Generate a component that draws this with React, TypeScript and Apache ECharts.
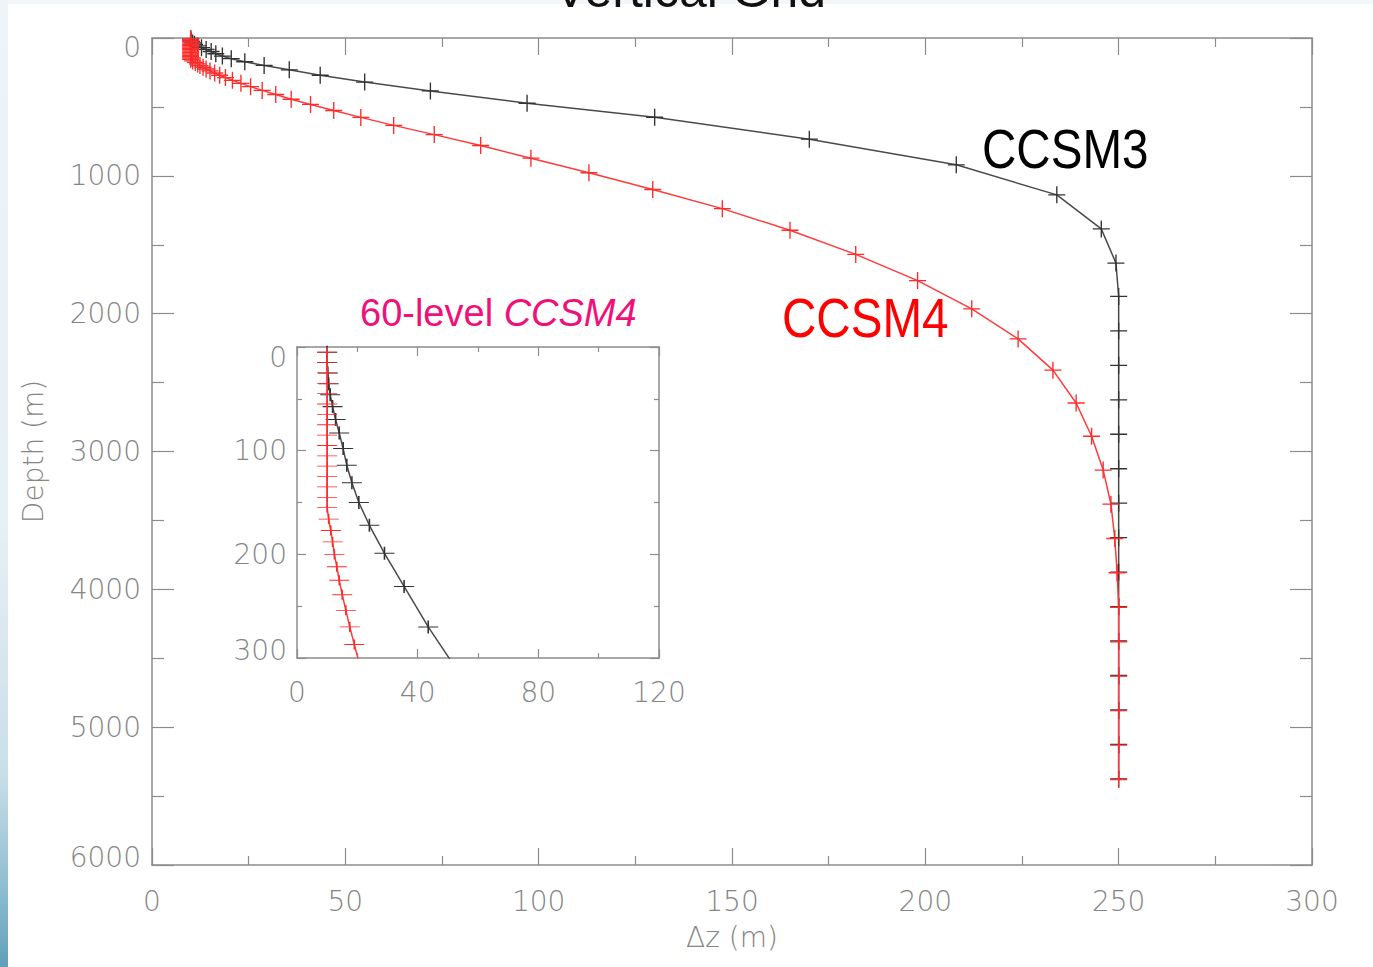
import React, { useEffect, useRef } from "react";
import * as echarts from "echarts";

// CCSM3 (40 levels): layer thickness Δz (m) and depth (m)
const ccsm3Dz = [
  10, 10, 10.2, 10.5, 11, 11.8, 12.8, 14, 15.3, 16.5,
  18.2, 20.5, 24, 29, 35.5, 43.5, 55, 72, 97, 130,
  170, 208, 234, 245.5, 249.3,
  250, 250, 250, 250, 250, 250, 250, 250, 250, 250, 250, 250, 250, 250, 250,
];
const ccsm3Depth = [
  5, 15, 25, 35.5, 46, 57.5, 70, 83, 98, 114,
  131, 150, 172, 199, 231, 270, 320, 384, 473, 575,
  734, 920, 1138, 1385, 1633,
  1875, 2125, 2375, 2625, 2875, 3125, 3375, 3625, 3875, 4125, 4375, 4625, 4875, 5125, 5375,
];

// CCSM4 (60 levels)
const ccsm4Dz = [
  10, 10, 10, 10, 10, 10, 10, 10, 10, 10, 10, 10, 10, 10, 10, 10,
  10.5, 11.2, 11.8, 12.4, 13.2, 14, 15, 16.2, 17.5, 19,
  20.8, 23, 25.5, 28.5, 32, 36, 41, 47, 54, 62.5,
  73, 85, 98, 113, 129.5, 147.5, 165, 182, 198, 212,
  224, 233,
  239, 243, 246, 248, 249, 249.6, 250, 250, 250, 250, 250, 250,
];
const ccsm4Depth = [
  5, 15, 25, 35, 45, 55, 65, 75, 85, 95, 105, 115, 125, 135, 145, 155,
  166, 177, 188, 200, 212, 225, 239, 254, 270, 287,
  307, 329, 353, 380, 410, 444, 482, 526, 576, 634,
  701, 780, 872, 978, 1099, 1238, 1395, 1570, 1760, 1965,
  2183, 2410,
  2648, 2889, 3135, 3382, 3631, 3880, 4130, 4380, 4630, 4880, 5130, 5380,
];

const titleText = "Vertical Grid";
const xName = "Δz (m)";
const yName = "Depth (m)";
const label3 = "CCSM3";
const label4 = "CCSM4";
const insetTitleA = "60-level ";
const insetTitleB = "CCSM4";

const CROSS =
  "path://M9.2,0 H10.8 V9.2 H20 V10.8 H10.8 V20 H9.2 V10.8 H0 V9.2 H9.2 Z";

const pairs = (dz: number[], depth: number[]) => dz.map((v, i) => [v, depth[i]]);

const AXIS_COLOR = "#8c8c8c";
const LABEL_COLOR = "#858585";
const FONT = "DejaVu Sans";

function makeAxis(o: any) {
  const {
    gridIndex, position, min, max, interval, inverse, showLabel, tickLen, minorLen,
    margin, formatter, rich, name, nameGap, fontSize,
  } = o;
  return {
    type: "value",
    gridIndex,
    position,
    min,
    max,
    interval,
    inverse: !!inverse,
    axisLine: { show: true, onZero: false, lineStyle: { color: AXIS_COLOR, width: 1.5 } },
    axisTick: { show: true, inside: true, length: tickLen, lineStyle: { color: AXIS_COLOR, width: 1.2 } },
    minorTick: { show: true, splitNumber: 2, length: minorLen, lineStyle: { color: AXIS_COLOR, width: 1.2 } },
    splitLine: { show: false },
    minorSplitLine: { show: false },
    axisLabel: {
      show: !!showLabel,
      margin,
      color: LABEL_COLOR,
      fontFamily: FONT,
      fontWeight: 200,
      fontSize: fontSize || 28,
      formatter,
      rich,
    },
    name,
    nameLocation: "middle",
    nameGap,
    nameTextStyle: { color: LABEL_COLOR, fontFamily: FONT, fontWeight: 200, fontSize: 28 },
  };
}

const richBase = { color: LABEL_COLOR, fontFamily: FONT, fontWeight: 200, fontSize: 28 };

export default function App() {
  const ref = useRef<HTMLDivElement>(null);

  useEffect(() => {
    if (!ref.current) return;
    const chart = echarts.init(ref.current, undefined, { renderer: "svg" });

    const d3 = pairs(ccsm3Dz, ccsm3Depth);
    const d4 = pairs(ccsm4Dz, ccsm4Depth);

    const option: any = {
      animation: false,
      backgroundColor: "transparent",
      grid: [
        { left: 152, top: 38, width: 1160, height: 827 },
        { left: 297, top: 347, width: 362, height: 311 },
      ],
      xAxis: [
        makeAxis({ gridIndex: 0, position: "bottom", min: 0, max: 300, interval: 50, showLabel: true, tickLen: 17, minorLen: 9, margin: 22, name: xName, nameGap: 58 }),
        makeAxis({ gridIndex: 0, position: "top", min: 0, max: 300, interval: 50, showLabel: false, tickLen: 17, minorLen: 9 }),
        makeAxis({ gridIndex: 1, position: "bottom", min: 0, max: 120, interval: 40, showLabel: true, tickLen: 9, minorLen: 5, margin: 20 }),
        makeAxis({ gridIndex: 1, position: "top", min: 0, max: 120, interval: 40, showLabel: false, tickLen: 9, minorLen: 5 }),
      ],
      yAxis: [
        makeAxis({
          gridIndex: 0, position: "left", min: 0, max: 6000, interval: 1000, inverse: true, showLabel: true,
          tickLen: 22, minorLen: 12, margin: 11, name: yName, nameGap: 105,
          formatter: (v: number) => (v === 0 ? "{t|0}" : v === 6000 ? "{b|6000}" : String(v)),
          rich: { t: { ...richBase, padding: [18, 0, 0, 0] }, b: { ...richBase, padding: [0, 0, 16, 0] } },
        }),
        makeAxis({ gridIndex: 0, position: "right", min: 0, max: 6000, interval: 1000, inverse: true, showLabel: false, tickLen: 22, minorLen: 12 }),
        makeAxis({
          gridIndex: 1, position: "left", min: 0, max: 300, interval: 100, inverse: true, showLabel: true,
          tickLen: 9, minorLen: 5, margin: 10,
          formatter: (v: number) => (v === 0 ? "{t|0}" : v === 300 ? "{b|300}" : String(v)),
          rich: { t: { ...richBase, padding: [20, 0, 0, 0] }, b: { ...richBase, padding: [0, 0, 16, 0] } },
        }),
        makeAxis({ gridIndex: 1, position: "right", min: 0, max: 300, interval: 100, inverse: true, showLabel: false, tickLen: 9, minorLen: 5 }),
      ],
      series: [
        {
          name: "CCSM3", type: "line", xAxisIndex: 0, yAxisIndex: 0, data: d3,
          symbol: CROSS, symbolSize: [17, 17],
          itemStyle: { color: "#333333" },
          lineStyle: { color: "#4a4a4a", width: 1.5 },
          z: 2,
        },
        {
          name: "CCSM4", type: "line", xAxisIndex: 0, yAxisIndex: 0, data: d4,
          symbol: CROSS, symbolSize: [17, 17],
          itemStyle: { color: "#ff2a2a" },
          lineStyle: { color: "#ff3a3a", width: 1.5 },
          z: 3,
        },
        {
          name: "CCSM3 inset", type: "line", xAxisIndex: 2, yAxisIndex: 2, data: d3,
          symbol: CROSS, symbolSize: [20, 13], clip: true,
          itemStyle: { color: "#333333" },
          lineStyle: { color: "#4a4a4a", width: 1.5 },
          z: 2,
        },
        {
          name: "CCSM4 inset", type: "line", xAxisIndex: 2, yAxisIndex: 2, data: d4,
          symbol: CROSS, symbolSize: [20, 10], clip: true,
          itemStyle: { color: "#ff2a2a" },
          lineStyle: { color: "#ff3a3a", width: 1.5 },
          z: 3,
        },
      ],
      graphic: [
        {
          type: "text", x: 690, y: -10,
          style: { text: titleText, fill: "#111", fontFamily: "Liberation Sans", fontSize: 50, align: "center", verticalAlign: "middle" },
        },
        {
          type: "text", x: 982, y: 149, scaleX: 0.85,
          style: { text: label3, fill: "#000", fontFamily: "Liberation Sans", fontSize: 56, align: "left", verticalAlign: "middle" },
        },
        {
          type: "text", x: 782, y: 318, scaleX: 0.85,
          style: { text: label4, fill: "#ff0000", fontFamily: "Liberation Sans", fontSize: 56, align: "left", verticalAlign: "middle" },
        },
        {
          type: "text", x: 360, y: 313,
          style: {
            text: "{a|" + insetTitleA + "}{b|" + insetTitleB + "}",
            align: "left", verticalAlign: "middle",
            rich: {
              a: { fill: "#f0107a", fontFamily: "Liberation Sans", fontSize: 38 },
              b: { fill: "#f0107a", fontFamily: "Liberation Sans", fontSize: 38, fontStyle: "italic" },
            },
          },
        },
      ],
    };

    chart.setOption(option);
    return () => chart.dispose();
  }, []);

  return (
    <div style={{ position: "absolute", left: 0, top: 0, width: 1373, height: 967, background: "#f3f7fa", overflow: "hidden" }}>
      <div
        style={{
          position: "absolute", left: 0, top: 0, width: 8, height: 967,
          background: "linear-gradient(to bottom, #eef4f7 0%, #e6eff3 55%, #c9dfe8 80%, #8dbdd0 92%, #5f9fba 100%)",
        }}
      />
      <div style={{ position: "absolute", left: 8, top: 4, width: 1365, height: 963, background: "#ffffff" }} />
      <div ref={ref} style={{ position: "absolute", left: 0, top: 0, width: 1373, height: 967 }} />
    </div>
  );
}
